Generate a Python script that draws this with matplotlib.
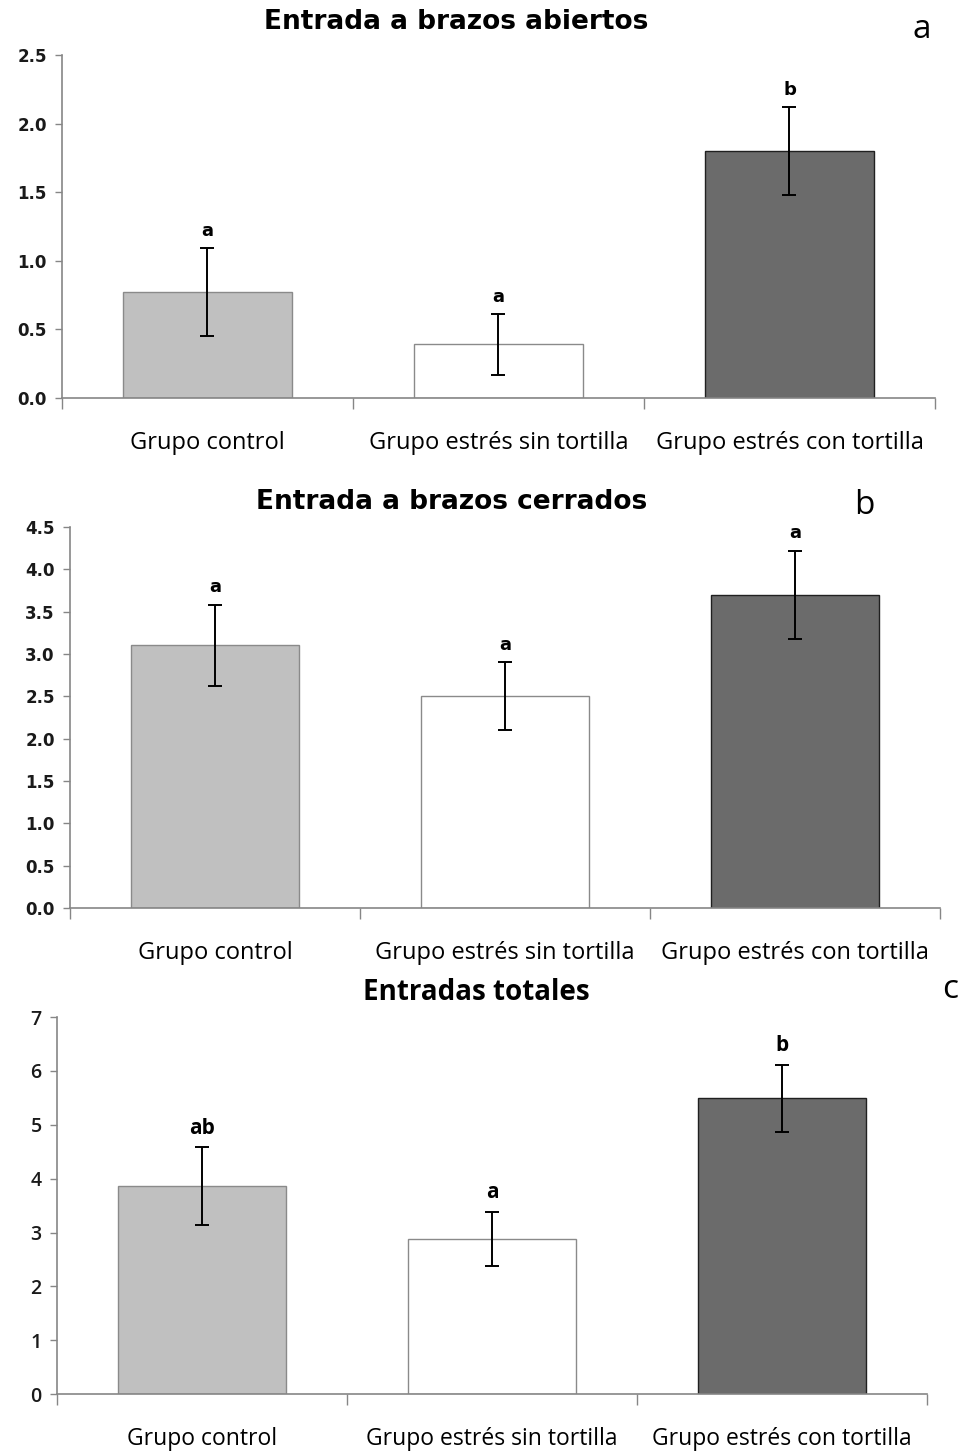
import matplotlib
matplotlib.use("Agg")
import matplotlib.pyplot as plt
import numpy as np

# group names and bar colours, shared by the three panels
grupos = ["Grupo control", "Grupo estrés sin tortilla", "Grupo estrés con tortilla"]
colores = ["#c0c0c0", "#ffffff", "#6b6b6b"]
bordes = ["#8a8a8a", "#8a8a8a", "#202020"]

# entries into open arms
abiertos_media = [0.77, 0.39, 1.80]
abiertos_err = [0.32, 0.22, 0.32]
abiertos_letras = ["a", "a", "b"]

# entries into closed arms
cerrados_media = [3.10, 2.50, 3.70]
cerrados_err = [0.48, 0.40, 0.52]
cerrados_letras = ["a", "a", "a"]

# total entries
totales_media = [3.86, 2.88, 5.49]
totales_err = [0.72, 0.51, 0.63]
totales_letras = ["ab", "a", "b"]

plt.rcParams["font.family"] = ["Open Sans", "DejaVu Sans"]

fig = plt.figure(figsize=(9.64, 14.52), dpi=100)


def panel(rect, medias, errores, letras, ymax, paso, fmt, tick_font, tick_size, tick_weight,
          letra_font, letra_size, cat_size):
    ax = fig.add_axes(rect)
    x = np.arange(len(grupos))
    ax.bar(x, medias, width=0.58, color=colores, edgecolor=bordes, linewidth=1.0, zorder=2)
    ax.errorbar(x, medias, yerr=errores, fmt="none", ecolor="black",
                elinewidth=1.4, capsize=5, capthick=1.4, zorder=3)
    for xi, m, e, l in zip(x, medias, errores, letras):
        ax.annotate(l, (xi, m + e), xytext=(0, 6), textcoords="offset points",
                    ha="center", va="bottom", fontsize=letra_size, fontweight="bold",
                    family=letra_font)
    ax.set_xlim(-0.5, 2.5)
    ax.set_ylim(0, ymax)
    ticks = np.arange(0, ymax + paso / 2, paso)
    ax.set_yticks(ticks)
    ax.set_yticklabels([fmt.format(t) for t in ticks], fontsize=tick_size, family=tick_font,
                       fontweight=tick_weight, color="#1a1a1a")
    # category axis: ticks on the boundaries, labels in the middle
    ax.set_xticks([-0.5, 0.5, 1.5, 2.5])
    ax.set_xticklabels([])
    ax.set_xticks(x, minor=True)
    ax.set_xticklabels(grupos, minor=True, fontsize=cat_size)
    ax.tick_params(axis="x", which="major", length=8, color="#868686", width=1)
    ax.tick_params(axis="x", which="minor", length=0, pad=24)
    ax.tick_params(axis="y", length=5, color="#868686", width=1, pad=6)
    for s in ["top", "right"]:
        ax.spines[s].set_visible(False)
    for s in ["left", "bottom"]:
        ax.spines[s].set_color("#868686")
        ax.spines[s].set_linewidth(1.2)
    return ax


panel([0.0643, 0.7259, 0.9056, 0.2362], abiertos_media, abiertos_err, abiertos_letras,
      2.5, 0.5, "{:.1f}", "DejaVu Sans", 12, "bold", "DejaVu Sans", 13, 17)
panel([0.0726, 0.3747, 0.9025, 0.2624], cerrados_media, cerrados_err, cerrados_letras,
      4.5, 0.5, "{:.1f}", "DejaVu Sans", 12, "bold", "DejaVu Sans", 13, 17)
panel([0.0591, 0.0399, 0.9025, 0.2596], totales_media, totales_err, totales_letras,
      7, 1, "{:.0f}", "Open Sans", 14, "semibold", "Open Sans", 15, 16.5)

fig.text(456 / 964, 1 - 22 / 1452, "Entrada a brazos abiertos", ha="center", va="center",
         fontsize=19, fontweight="bold", family="DejaVu Sans")
fig.text(452 / 964, 1 - 502 / 1452, "Entrada a brazos cerrados", ha="center", va="center",
         fontsize=19, fontweight="bold", family="DejaVu Sans")
fig.text(476 / 964, 1 - 993 / 1452, "Entradas totales", ha="center", va="center",
         fontsize=20, fontweight="bold")

fig.text(922 / 964, 1 - 30 / 1452, "a", ha="center", va="center", fontsize=24)
fig.text(864 / 964, 1 - 506 / 1452, "b", ha="center", va="center", fontsize=24)
fig.text(950 / 964, 1 - 990 / 1452, "c", ha="center", va="center", fontsize=24)

fig.savefig("out.png", dpi=100, facecolor="white")
